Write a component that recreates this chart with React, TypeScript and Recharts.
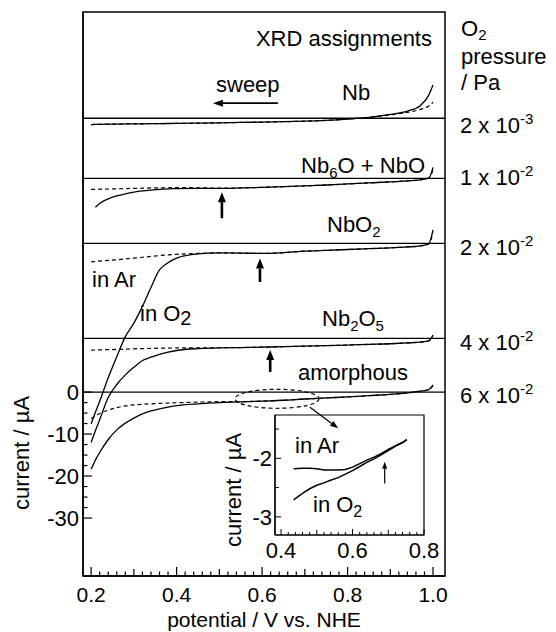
import React from 'react';
import { LineChart, Line, XAxis, YAxis, ReferenceLine, ReferenceArea, ReferenceDot } from 'recharts';

const FONT = '"Liberation Sans", Arial, Helvetica, sans-serif';

// main panel, potential / V vs. NHE (shared by every trace)
const POTENTIAL = [0.2, 0.21, 0.22, 0.24, 0.26, 0.28, 0.3, 0.32, 0.34, 0.36, 0.38, 0.4, 0.45, 0.5, 0.55, 0.6, 0.65, 0.7, 0.75, 0.8, 0.85, 0.9, 0.94, 0.97, 0.99, 1.0];

// current relative to each trace's own baseline, uA (O2 = solid, Ar = dashed)
const NB_O2 = [-1.5, -1.48, -1.46, -1.42, -1.39, -1.36, -1.34, -1.32, -1.3, -1.28, -1.25, -1.23, -1.16, -1.08, -1.0, -0.92, -0.82, -0.7, -0.5, -0.2, 0.2, 0.9, 1.7, 3.0, 5.5, 7.9];
const NB_AR = [-1.5, -1.48, -1.46, -1.42, -1.39, -1.36, -1.34, -1.32, -1.3, -1.28, -1.25, -1.23, -1.16, -1.08, -1.0, -0.92, -0.82, -0.7, -0.5, -0.2, 0.2, 0.8, 1.4, 2.1, 2.9, 3.8];
const NB6O_O2 = [null, -6.9, -6.0, -4.9, -4.2, -3.7, -3.3, -3.0, -2.8, -2.65, -2.5, -2.45, -2.4, -2.4, -2.3, -2.15, -2.0, -1.8, -1.6, -1.35, -1.1, -0.85, -0.6, -0.35, 0.05, 2.6];
const NB6O_AR = [-2.65, -2.62, -2.6, -2.55, -2.5, -2.45, -2.4, -2.35, -2.3, -2.27, -2.25, -2.22, -2.25, -2.35, -2.3, -2.15, -2.0, -1.8, -1.6, -1.35, -1.1, -0.85, -0.6, -0.35, 0.05, 2.0];
const NBO2_O2 = [-43, -40.2, -37.6, -32.0, -27.0, -22.2, -19.0, -15.0, -10.5, -6.3, -4.6, -3.5, -2.5, -2.25, -2.3, -2.4, -2.2, -1.85, -1.65, -1.45, -1.25, -1.05, -0.85, -0.6, -0.1, 3.2];
const NBO2_AR = [-4.4, -4.3, -4.2, -4.05, -3.9, -3.7, -3.5, -3.3, -3.1, -2.9, -2.75, -2.6, -2.4, -2.25, -2.3, -2.4, -2.2, -1.85, -1.65, -1.45, -1.25, -1.05, -0.85, -0.6, -0.1, 2.6];
const NB2O5_O2 = [-24.8, -22.0, -19.4, -14.1, -11.0, -8.7, -6.9, -5.3, -4.5, -3.8, -3.3, -2.9, -2.45, -2.3, -2.2, -2.1, -2.0, -1.85, -1.75, -1.6, -1.45, -1.3, -1.1, -0.9, -0.6, 0.8];
const NB2O5_AR = [-2.8, -2.78, -2.75, -2.7, -2.65, -2.6, -2.5, -2.45, -2.4, -2.35, -2.32, -2.3, -2.27, -2.25, -2.2, -2.1, -2.0, -1.85, -1.75, -1.6, -1.45, -1.3, -1.1, -0.9, -0.6, 0.6];
const AMORPH_O2 = [-18.4, -16.2, -14.4, -11.3, -9.0, -7.4, -6.2, -5.2, -4.5, -4.0, -3.6, -3.25, -2.8, -2.5, -2.35, -2.15, -1.95, -1.65, -1.4, -1.15, -0.85, -0.55, -0.2, 0.2, 0.6, 1.7];
const AMORPH_AR = [-6.3, -5.7, -5.1, -4.3, -3.7, -3.3, -3.05, -2.9, -2.8, -2.7, -2.6, -2.55, -2.4, -2.3, -2.3, -2.15, -1.95, -1.65, -1.4, -1.15, -0.85, -0.55, -0.2, 0.2, 0.6, 1.4];

// vertical offset of each trace (uA), top to bottom
const BASELINES = [65.2, 50.9, 35.4, 12.8, 0];

const X_DOMAIN = [0.181, 1.028];
const Y_DOMAIN = [-43.8, 90.5];
const X_LABELS = [0.2, 0.4, 0.6, 0.8, 1.0];
const X_TICKS = Array.from({ length: 41 }, (_, i) => Math.round((0.2 + i * 0.02) * 100) / 100);
const Y_LABELS = [0, -10, -20, -30];
const Y_TICKS = [-30, -27.5, -25, -22.5, -20, -17.5, -15, -12.5, -10, -7.5, -5, -2.5, 0];

// marker arrows (potential, tail, tip in uA on the main scale)
const ARROW_POTENTIAL = [0.506, 0.595, 0.619];
const ARROW_TAIL = [41.4, 26.2, 4.8];
const ARROW_TIP = [47.6, 31.8, 10.0];

// inset: zoom of the amorphous trace
const INSET_POTENTIAL = [0.435, 0.46, 0.48, 0.5, 0.52, 0.54, 0.56, 0.58, 0.6, 0.62, 0.64, 0.66, 0.68, 0.7, 0.72, 0.74, 0.752];
const INSET_AR = [-2.18, -2.17, -2.17, -2.18, -2.2, -2.2, -2.2, -2.19, -2.15, -2.09, -2.03, -1.98, -1.92, -1.85, -1.79, -1.73, -1.68];
const INSET_O2 = [-2.71, -2.6, -2.52, -2.46, -2.42, -2.37, -2.33, -2.27, -2.21, -2.14, -2.07, -2.01, -1.94, -1.87, -1.79, -1.73, -1.68];
const INSET_X_DOMAIN = [0.383, 0.8];
const INSET_Y_DOMAIN = [-3.31, -1.26];
const INSET_X_LABELS = [0.4, 0.6, 0.8];
const INSET_X_TICKS = Array.from({ length: 21 }, (_, i) => Math.round((0.4 + i * 0.02) * 100) / 100);
const INSET_Y_LABELS = [-2, -3];
const INSET_Y_TICKS = [-3, -2.5, -2, -1.5];

const TRACES = [
	{ key: 'nb', base: BASELINES[0], o2: NB_O2, ar: NB_AR },
	{ key: 'nb6o', base: BASELINES[1], o2: NB6O_O2, ar: NB6O_AR },
	{ key: 'nbo2', base: BASELINES[2], o2: NBO2_O2, ar: NBO2_AR },
	{ key: 'nb2o5', base: BASELINES[3], o2: NB2O5_O2, ar: NB2O5_AR },
	{ key: 'amorph', base: BASELINES[4], o2: AMORPH_O2, ar: AMORPH_AR },
];

const mainData = POTENTIAL.map((v, i) => {
	const row: Record<string, number | null> = { potential: v };
	TRACES.forEach((t) => {
		row[`${t.key}O2`] = t.o2[i] == null ? null : t.base + (t.o2[i] as number);
		row[`${t.key}Ar`] = t.ar[i] == null ? null : t.base + (t.ar[i] as number);
	});
	return row;
});

const insetData = INSET_POTENTIAL.map((v, i) => ({ potential: v, ar: INSET_AR[i], o2: INSET_O2[i] }));

const has = (list: number[], v: number) => list.some((t) => Math.abs(t - v) < 1e-6);

const MainXTick = ({ x, y, payload }: any) => {
	const v = payload.value;
	const major = has(X_LABELS, v);
	const tenth = Math.abs(v * 10 - Math.round(v * 10)) < 1e-6;
	return (
		<g>
			<line x1={x} y1={y} x2={x} y2={y - (major ? 9 : tenth ? 7 : 4.5)} stroke="#000" strokeWidth={1.2} />
			{major && (
				<text x={x} y={y + 26} textAnchor="middle" fontSize={21} fontFamily={FONT} fill="#000">
					{v.toFixed(1)}
				</text>
			)}
		</g>
	);
};

const MainYTick = ({ x, y, payload }: any) => {
	const v = payload.value;
	const major = has(Y_LABELS, v);
	return (
		<g>
			<line x1={x} y1={y} x2={x + (major ? 9 : 4.5)} y2={y} stroke="#000" strokeWidth={1.2} />
			{major && (
				<text x={x - 4} y={y + 8} textAnchor="end" fontSize={22} fontFamily={FONT} fill="#000">
					{v}
				</text>
			)}
		</g>
	);
};

const InsetXTick = ({ x, y, payload }: any) => {
	const v = payload.value;
	const major = has(INSET_X_LABELS, v);
	const tenth = Math.abs(v * 10 - Math.round(v * 10)) < 1e-6;
	return (
		<g>
			<line x1={x} y1={y} x2={x} y2={y - (major ? 6 : tenth ? 5 : 3)} stroke="#000" strokeWidth={1} />
			{major && (
				<text x={x} y={y + 23} textAnchor="middle" fontSize={22} fontFamily={FONT} fill="#000">
					{v.toFixed(1)}
				</text>
			)}
		</g>
	);
};

const InsetYTick = ({ x, y, payload }: any) => {
	const v = payload.value;
	const major = has(INSET_Y_LABELS, v);
	return (
		<g>
			<line x1={x} y1={y} x2={x + (major ? 6 : 4)} y2={y} stroke="#000" strokeWidth={1} />
			{major && (
				<text x={x - 3} y={y + 8} textAnchor="end" fontSize={22} fontFamily={FONT} fill="#000">
					{v}
				</text>
			)}
		</g>
	);
};

// line with a filled head at the (x2, y2) end
const arrowShape = (head: number, half: number, width: number) => (p: any) => {
	const { x1, y1, x2, y2 } = p;
	const len = Math.hypot(x2 - x1, y2 - y1) || 1;
	const ux = (x2 - x1) / len;
	const uy = (y2 - y1) / len;
	const bx = x2 - ux * head;
	const by = y2 - uy * head;
	return (
		<g>
			<line x1={x1} y1={y1} x2={bx} y2={by} stroke="#000" strokeWidth={width} />
			<path d={`M${x2},${y2} L${bx - uy * half},${by + ux * half} L${bx + uy * half},${by - ux * half} Z`} fill="#000" />
		</g>
	);
};

const sub = (t: string, size = 15, shift = 5) => [
	<tspan key="s" fontSize={size} dy={shift}>{t}</tspan>,
];

export default function App() {
	return (
		<div style={{ position: 'absolute', left: 0, top: 0, width: 556, height: 632, background: '#fff' }}>
			{/* inset background */}
			<div style={{ position: 'absolute', left: 275, top: 415, width: 149, height: 120, background: '#fff' }} />
			<div style={{ position: 'absolute', left: 200, top: 395 }}>
				<LineChart width={240} height={175} data={insetData} margin={{ top: 20, right: 16, bottom: 34, left: 74 }}>
					<XAxis
						dataKey="potential"
						type="number"
						domain={INSET_X_DOMAIN}
						allowDataOverflow
						ticks={INSET_X_TICKS}
						interval={0}
						height={1}
						tickSize={0}
						tickMargin={0}
						tickLine={false}
						tick={InsetXTick}
						axisLine={{ stroke: '#000', strokeWidth: 1.2 }}
					/>
					<YAxis
						type="number"
						domain={INSET_Y_DOMAIN}
						allowDataOverflow
						ticks={INSET_Y_TICKS}
						interval={0}
						width={1}
						tickSize={0}
						tickMargin={0}
						tickLine={false}
						tick={InsetYTick}
						axisLine={{ stroke: '#000', strokeWidth: 1.2 }}
					/>
					<ReferenceArea
						x1={INSET_X_DOMAIN[0]}
						x2={INSET_X_DOMAIN[1]}
						y1={INSET_Y_DOMAIN[0]}
						y2={INSET_Y_DOMAIN[1]}
						fill="none"
						stroke="#000"
						strokeWidth={1.2}
					/>
					<Line dataKey="ar" type="linear" stroke="#000" strokeWidth={1.5} dot={false} isAnimationActive={false} />
					<Line dataKey="o2" type="linear" stroke="#000" strokeWidth={1.5} dot={false} isAnimationActive={false} />
					<ReferenceLine
						segment={[{ x: 0.69, y: -2.43 }, { x: 0.69, y: -2.06 }]}
						shape={arrowShape(7, 2.5, 1.2)}
					/>
				</LineChart>
			</div>

			<div style={{ position: 'absolute', left: 0, top: 0 }}>
				<LineChart width={556} height={632} data={mainData} margin={{ top: 12, right: 111, bottom: 55, left: 82 }}>
					<XAxis
						dataKey="potential"
						type="number"
						domain={X_DOMAIN}
						allowDataOverflow
						ticks={X_TICKS}
						interval={0}
						height={1}
						tickSize={0}
						tickMargin={0}
						tickLine={false}
						tick={MainXTick}
						axisLine={{ stroke: '#000', strokeWidth: 1.5 }}
					/>
					<YAxis
						type="number"
						domain={Y_DOMAIN}
						allowDataOverflow
						ticks={Y_TICKS}
						interval={0}
						width={1}
						tickSize={0}
						tickMargin={0}
						tickLine={false}
						tick={MainYTick}
						axisLine={{ stroke: '#000', strokeWidth: 1.5 }}
					/>
					<ReferenceArea x1={X_DOMAIN[0]} x2={X_DOMAIN[1]} y1={Y_DOMAIN[0]} y2={Y_DOMAIN[1]} fill="none" stroke="#000" strokeWidth={1.5} />
					{BASELINES.map((b) => (
						<ReferenceLine key={`base-${b}`} y={b} stroke="#000" strokeWidth={1.3} />
					))}
					{TRACES.flatMap((t) => [
						<Line
							key={`${t.key}Ar`}
							dataKey={`${t.key}Ar`}
							type="monotone"
							stroke="#000"
							strokeWidth={1.2}
							strokeDasharray="4 3"
							dot={false}
							isAnimationActive={false}
						/>,
						<Line
							key={`${t.key}O2`}
							dataKey={`${t.key}O2`}
							type="monotone"
							stroke="#000"
							strokeWidth={1.3}
							dot={false}
							isAnimationActive={false}
						/>,
					])}
					{ARROW_POTENTIAL.map((v, i) => (
						<ReferenceLine
							key={`arrow-${i}`}
							segment={[{ x: v, y: ARROW_TAIL[i] }, { x: v, y: ARROW_TIP[i] }]}
							shape={arrowShape(10, 4, 2.6)}
						/>
					))}
					{/* sweep direction */}
					<ReferenceLine segment={[{ x: 0.637, y: 68.8 }, { x: 0.485, y: 68.8 }]} shape={arrowShape(10, 3.5, 1.6)} />
					{/* zoomed region and pointer to the inset */}
					<ReferenceDot
						x={0.635}
						y={-1.6}
						shape={(p: any) => (
							<ellipse cx={p.cx} cy={p.cy} rx={42} ry={9.5} fill="none" stroke="#000" strokeWidth={1.2} strokeDasharray="4 3" />
						)}
					/>
					<ReferenceLine segment={[{ x: 0.712, y: -3.6 }, { x: 0.778, y: -8.6 }]} shape={arrowShape(8, 3, 1.2)} />
				</LineChart>
			</div>

			<svg
				width={556}
				height={632}
				style={{ position: 'absolute', left: 0, top: 0, pointerEvents: 'none' }}
				fontFamily={FONT}
				fontSize={22}
				fill="#000"
			>
				<text x={432} y={46} textAnchor="end">XRD assignments</text>
				<text x={216} y={92}>sweep</text>
				<text x={342} y={100}>Nb</text>
				<text x={425} y={173} textAnchor="end">
					Nb{sub('6')}
					<tspan dy={-5}>O + NbO</tspan>
				</text>
				<text x={327} y={232}>
					NbO{sub('2')}
				</text>
				<text x={322} y={326}>
					Nb{sub('2')}
					<tspan dy={-5}>O</tspan>
					{sub('5')}
				</text>
				<text x={298} y={380}>amorphous</text>
				<text x={92} y={287}>in Ar</text>
				<text x={140} y={321}>
					in O{sub('2', 20, 4)}
				</text>

				{/* inset curve labels */}
				<text x={295} y={453}>in Ar</text>
				<text x={313} y={512}>
					in O{sub('2', 16, 5)}
				</text>

				<text x={461} y={36}>
					O{sub('2', 15, 4)}
				</text>
				<text x={461} y={64}>pressure</text>
				<text x={461} y={90}>/ Pa</text>
				{[
					['2', '-3', 133],
					['1', '-2', 185],
					['2', '-2', 255],
					['4', '-2', 350],
					['6', '-2', 403],
				].map(([m, e, y]) => (
					<text key={`${m}${e}${y}`} x={460} y={y as number}>
						{`${m} x 10`}
						<tspan fontSize={15} dy={-9}>{e}</tspan>
					</text>
				))}

				<text transform="translate(29,453) rotate(-90)" textAnchor="middle">current / µA</text>
				<text transform="translate(241,490) rotate(-90)" textAnchor="middle">current / µA</text>
				<text x={264} y={627} textAnchor="middle" fontSize={21}>potential / V vs. NHE</text>
			</svg>
		</div>
	);
}
